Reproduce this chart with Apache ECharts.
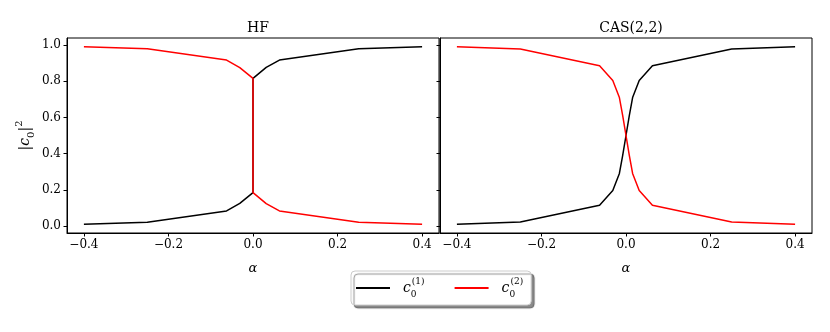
<!DOCTYPE html>
<html>
<head>
<meta charset="utf-8">
<script src="https://cdn.jsdelivr.net/npm/echarts@6/dist/echarts.min.js"></script>
<style>
  html, body { margin: 0; padding: 0; background: #fff; }
  #chart { width: 830px; height: 332px; }
</style>
</head>
<body>
<div id="chart"></div>
<script>
// 横轴刻度 / 纵轴刻度
var xTicks = [-0.4, -0.2, 0, 0.2, 0.4];
var yTicks = [0, 0.2, 0.4, 0.6, 0.8, 1.0];
var panelTitles = ['HF', 'CAS(2,2)'];
var seriesNames = ['c1', 'c2'];

// HF 面板
var hfAlpha = [-0.4, -0.25, -0.0625, -0.03125, 0, 0, 0.03125, 0.0625, 0.25, 0.4];
var hfC1 = [0.01, 0.02, 0.083, 0.125, 0.184, 0.816, 0.877, 0.917, 0.98, 0.99];
var hfC2 = [0.99, 0.98, 0.917, 0.875, 0.816, 0.184, 0.123, 0.083, 0.02, 0.01];

// CAS(2,2) 面板
var casAlpha = [-0.4, -0.25, -0.0625, -0.03125, -0.015625, -0.0078125, 0, 0.0078125, 0.015625, 0.03125, 0.0625, 0.25, 0.4];
var casC1 = [0.01, 0.022, 0.115, 0.196, 0.29, 0.39, 0.5, 0.61, 0.71, 0.804, 0.885, 0.978, 0.99];
var casC2 = [0.99, 0.978, 0.885, 0.804, 0.71, 0.61, 0.5, 0.39, 0.29, 0.196, 0.115, 0.022, 0.01];

var FONT = 'DejaVu Serif';

function pairs(xs, ys) {
    return xs.map(function (x, i) { return [x, ys[i]]; });
}
function fmt(v) {
    var s = Math.abs(v) < 1e-9 ? '0.0' : v.toFixed(1);
    return s.replace('-', '\u2212');
}

var chart = echarts.init(document.getElementById('chart'), null, { renderer: 'canvas' });

function xAxisOf(grid) {
    return {
        type: 'value', gridIndex: grid, min: -0.44, max: 0.44,
        name: 'α', nameLocation: 'middle', nameGap: 29,
        nameTextStyle: { fontFamily: FONT, fontStyle: 'italic', fontSize: 13, color: '#000' },
        axisLine: { show: true, onZero: false, lineStyle: { color: '#000', width: 1 } },
        axisTick: { show: true, length: 3.5, customValues: xTicks, lineStyle: { color: '#000' } },
        axisLabel: { customValues: xTicks, formatter: fmt, fontFamily: FONT, fontSize: 12, color: '#000', margin: 6 },
        splitLine: { show: false }
    };
}
function yAxisOf(grid, labels) {
    var ax = {
        type: 'value', gridIndex: grid, min: -0.039, max: 1.039,
        axisLine: { show: true, onZero: false, lineStyle: { color: '#000', width: 1 } },
        axisTick: { show: true, length: 3.5, customValues: yTicks, lineStyle: { color: '#000' } },
        axisLabel: { show: labels, customValues: yTicks, formatter: fmt, fontFamily: FONT, fontSize: 12, color: '#000', margin: 6 },
        splitLine: { show: false }
    };
    if (labels) {
        ax.name = '{a||}{c|c}{s|0}{a||}{p|2}';
        ax.nameLocation = 'middle';
        ax.nameGap = 31;
        ax.nameTextStyle = {
            fontFamily: FONT, color: '#000',
            rich: {
                a: { fontFamily: FONT, fontSize: 14, color: '#000', lineHeight: 22, verticalAlign: 'middle' },
                c: { fontFamily: FONT, fontSize: 14, fontStyle: 'italic', color: '#000', lineHeight: 22, verticalAlign: 'middle' },
                s: { fontFamily: FONT, fontSize: 10, color: '#000', lineHeight: 22, verticalAlign: 'bottom' },
                p: { fontFamily: FONT, fontSize: 10, color: '#000', lineHeight: 22, verticalAlign: 'top' }
            }
        };
    }
    return ax;
}

function lineSeries(name, grid, xs, ys, color) {
    return {
        name: name, type: 'line', xAxisIndex: grid, yAxisIndex: grid,
        data: pairs(xs, ys), symbol: 'none', animation: false,
        lineStyle: { color: color, width: 1.5 }, itemStyle: { color: color }
    };
}

var legendRich = {
    i: { fontFamily: FONT, fontSize: 14, fontStyle: 'italic', color: '#000', lineHeight: 22, verticalAlign: 'middle', padding: [0, 0, 0, 8] },
    b: { fontFamily: FONT, fontSize: 9, color: '#000', lineHeight: 22, verticalAlign: 'bottom', width: 1 },
    t: { fontFamily: FONT, fontSize: 9, color: '#000', lineHeight: 22, verticalAlign: 'top' }
};

chart.setOption({
    backgroundColor: '#fff',
    animation: false,
    title: [
        { text: panelTitles[0], left: 253, top: 16, textAlign: 'center',
          textStyle: { fontFamily: FONT, fontSize: 14, fontWeight: 'normal', color: '#000' } },
        { text: panelTitles[1], left: 626, top: 16, textAlign: 'center',
          textStyle: { fontFamily: FONT, fontSize: 14, fontWeight: 'normal', color: '#000' } }
    ],
    grid: [
        { left: 67, top: 38, width: 372, height: 195, show: true, borderColor: '#000', borderWidth: 1, backgroundColor: 'transparent' },
        { left: 440, top: 38, width: 372, height: 195, show: true, borderColor: '#000', borderWidth: 1, backgroundColor: 'transparent' }
    ],
    xAxis: [xAxisOf(0), xAxisOf(1)],
    yAxis: [yAxisOf(0, true), yAxisOf(1, false)],
    legend: {
        data: seriesNames,
        left: 351, top: 271,
        orient: 'horizontal',
        icon: 'rect',
        itemWidth: 34, itemHeight: 2, itemGap: 30,
        padding: [6, 8, 6, 5],
        backgroundColor: '#fff',
        borderColor: '#ccc', borderWidth: 1, borderRadius: 4,
        shadowColor: 'rgba(0,0,0,0.45)', shadowBlur: 1, shadowOffsetX: 3, shadowOffsetY: 3,
        textStyle: { rich: legendRich },
        formatter: function (name) {
            return name === 'c1' ? '{i|c}{b|0}{t|(1)}' : '{i|c}{b|0}{t|(2)}';
        }
    },
    series: [
        lineSeries('c1', 0, hfAlpha, hfC1, '#000000'),
        lineSeries('c2', 0, hfAlpha, hfC2, '#ff0000'),
        lineSeries('c1', 1, casAlpha, casC1, '#000000'),
        lineSeries('c2', 1, casAlpha, casC2, '#ff0000')
    ]
});
window.addEventListener('resize', function () { chart.resize(); });
</script>
</body>
</html>
